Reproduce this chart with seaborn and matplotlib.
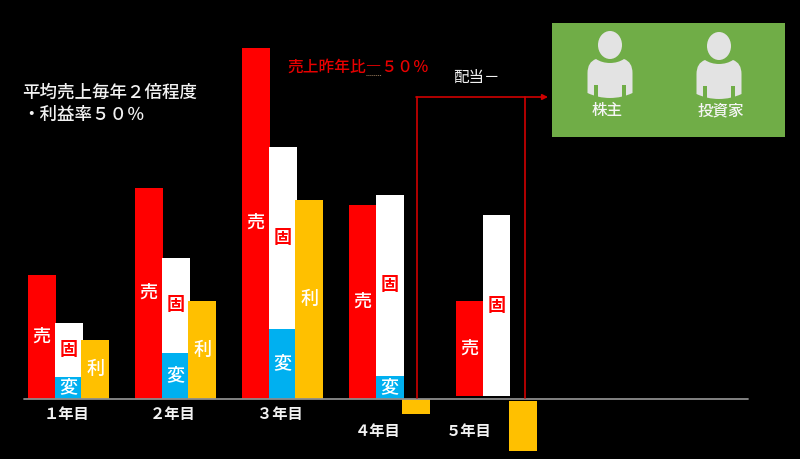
import matplotlib
matplotlib.use("Agg")
import matplotlib.pyplot as plt
from matplotlib.patches import Ellipse, PathPatch, Rectangle
from matplotlib.path import Path
import pandas as pd
import seaborn as sns

years = ["1年目", "2年目", "3年目", "4年目", "5年目"]
sales = [124, 211, 351, 194, 95]
fixed_cost = [54, 95, 182, 181, 181]
variable_cost = [22, 46, 70, 23, 0]
profit = [59, 98, 199, -15, -50]
series = ["売", "固", "利"]
series_colors = {"売": "#FF0000", "固": "#FFFFFF", "利": "#FFC000"}
variable_color = "#00B0F0"
year_labels = ["１年目", "２年目", "３年目", "４年目", "５年目"]

sns.set_theme(style="white")
plt.rcParams["font.family"] = ["Noto Sans CJK JP", "DejaVu Sans"]

fig = plt.figure(figsize=(8, 4.59), dpi=100, facecolor="black")
ax = fig.add_axes([0, 0, 1, 1], facecolor="black")

total_cost = [f + v for f, v in zip(fixed_cost, variable_cost)]
df = pd.DataFrame({
    "year": years * 3,
    "kind": ["売"] * 5 + ["固"] * 5 + ["利"] * 5,
    "value": sales + total_cost + profit,
})
sns.barplot(data=df, x="year", y="value", hue="kind", order=years, hue_order=series,
            palette=series_colors, width=0.75, gap=0, saturation=1, errorbar=None,
            legend=False, ax=ax)
df_var = pd.DataFrame({"year": years, "kind": ["固"] * 5, "value": variable_cost})
n_main = len(ax.containers)
sns.barplot(data=df_var, x="year", y="value", hue="kind", order=years, hue_order=series,
            palette={"売": variable_color, "固": variable_color, "利": variable_color},
            width=0.75, gap=0, saturation=1, errorbar=None, legend=False, ax=ax)

# 1 data unit = 1 pixel vertically; one category step = 107 pixels
ax.set_xlim(-68.5 / 107, (800 - 68.5) / 107)
ax.set_ylim(-60.5, 398.5)
ax.set_axis_off()

bar_w = 28 / 107
red_c, white_c, yellow_c = ax.containers[:3]
blue_c = [c for c in ax.containers[n_main:] if len(c)][0]
for cont, z in ((red_c, 2), (white_c, 3), (blue_c, 4), (yellow_c, 5)):
    for p in cont:
        c = p.get_x() + p.get_width() / 2
        p.set_width(bar_w)
        p.set_x(c - bar_w / 2)
        p.set_zorder(z)
        p.set_linewidth(0)
# year 5 floats slightly off the axis line
red_c[4].set_y(2.5)
white_c[4].set_y(2.5)
yellow_c[4].set_y(-2)


def label_bar(p, s, color):
    cy = p.get_y() + p.get_height() / 2
    ax.text(p.get_x() + p.get_width() / 2, cy, s, color=color, fontsize=13,
            fontweight="medium", ha="center", va="center", zorder=8)


for i in range(5):
    label_bar(red_c[i], "売", "white")
    w = white_c[i]
    vh = variable_cost[i]
    cx = w.get_x() + w.get_width() / 2
    cy = w.get_y() + vh + (w.get_height() - vh) / 2
    ax.text(cx, cy, "固", color="#FF0000", fontsize=13, fontweight="bold",
            ha="center", va="center", zorder=8)
    if vh > 0:
        label_bar(blue_c[i], "変", "white")
    if profit[i] > 0:
        label_bar(yellow_c[i], "利", "white")

# overlay in pixel coordinates for annotations
ov = fig.add_axes([0, 0, 1, 1], facecolor="none")
ov.set_xlim(0, 800)
ov.set_ylim(459, 0)
ov.set_axis_off()

ov.plot([24, 748], [398.5, 398.5], color="#8C8C8C", lw=1.3, zorder=6)

for lab, x, y in zip(year_labels, [66.5, 173, 280, 378, 469], [414, 414, 414, 431, 431]):
    ov.text(x, y, lab, color="#F2F2F2", fontsize=11, fontweight="bold", ha="center", va="center")

ov.text(22, 92.5, "平均売上毎年２倍程度", color="#F2F2F2", fontsize=12.6, fontweight="medium", ha="left", va="center")
ov.text(22, 114.5, "・利益率５０％", color="#F2F2F2", fontsize=12.6, fontweight="medium", ha="left", va="center")
ov.text(287, 67.5, "売上昨年比―５０％", color="#E80000", fontsize=11.3, fontweight="medium", ha="left", va="center")
ov.plot([366, 381], [74.5, 74.5], color="#A08060", lw=0.7, ls=(0, (1, 1)))
ov.text(453, 77.5, "配当－", color="#F2F2F2", fontsize=11.2, ha="left", va="center")

# dividend flow lines
line_c = "#D00000"
ov.plot([416.8, 416.8], [398, 97], color=line_c, lw=1.2, zorder=7)
ov.plot([524.5, 524.5], [398, 97], color=line_c, lw=1.2, zorder=7)
ov.annotate("", xy=(548, 97), xytext=(416, 97),
            arrowprops=dict(arrowstyle="-|>", color=line_c, lw=1.2, mutation_scale=8, shrinkA=0, shrinkB=0))

# shareholders panel
green = "#70AD47"
ov.add_patch(Rectangle((551.5, 23), 233.5, 114, facecolor=green, edgecolor="none"))


def person(cx, head_top):
    grey = "#E3E3E3"
    ov.add_patch(Ellipse((cx, head_top + 14), 24, 28, facecolor=grey, edgecolor="none"))
    t = head_top + 27
    verts = [
        (cx - 14, t + 1), (cx - 8, t + 5), (cx, t + 5), (cx + 8, t + 5), (cx + 14, t + 1),
        (cx + 22.5, t + 4), (cx + 22.5, t + 15),
        (cx + 22.5, t + 35), (cx + 22.5, t + 35),
        (cx + 12, t + 40), (cx, t + 40),
        (cx - 12, t + 40), (cx - 22.5, t + 35),
        (cx - 22.5, t + 15), (cx - 22.5, t + 15),
        (cx - 22.5, t + 4), (cx - 14, t + 1),
        (cx - 14, t + 1),
    ]
    codes = [Path.MOVETO] + [Path.CURVE3] * 4 + [Path.CURVE3] * 2 + [Path.LINETO] * 2 + \
            [Path.CURVE3] * 4 + [Path.LINETO] * 2 + [Path.CURVE3] * 2 + [Path.CLOSEPOLY]
    ov.add_patch(PathPatch(Path(verts, codes), facecolor=grey, edgecolor="none"))
    for dx in (-16, 12):
        ov.add_patch(Rectangle((cx + dx, t + 27), 4, 16, facecolor=green, edgecolor="none"))


person(610, 31)
person(719, 32)
ov.text(607.5, 111, "株主", color="#F5F5F5", fontsize=11.2, fontweight="medium", ha="center", va="center")
ov.text(720.5, 111, "投資家", color="#F5F5F5", fontsize=11.2, fontweight="medium", ha="center", va="center")

fig.savefig("out.png", dpi=100, facecolor="black")
